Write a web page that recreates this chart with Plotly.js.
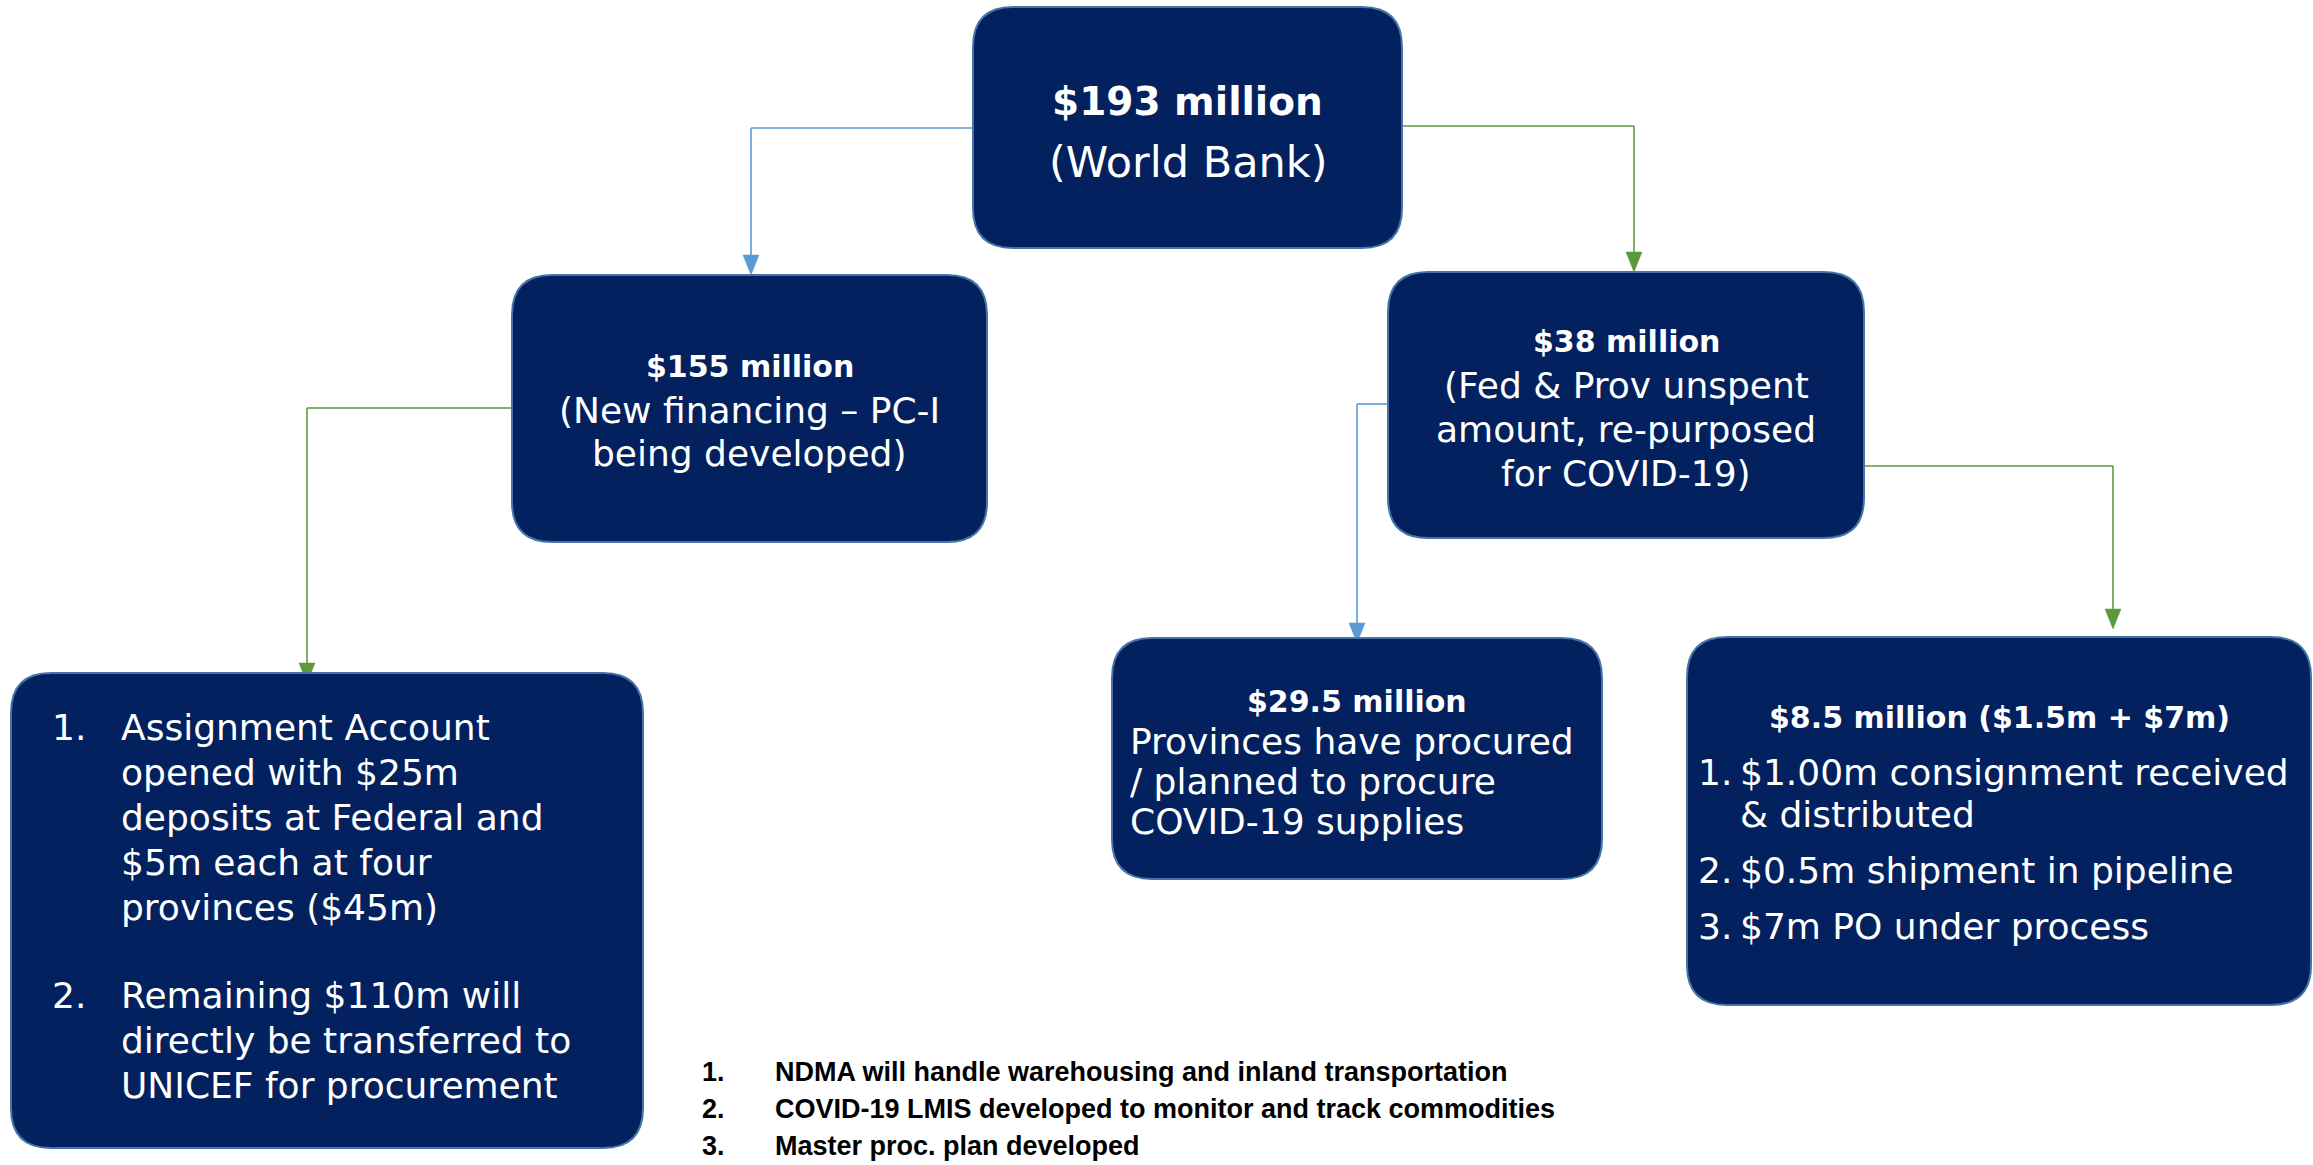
<!DOCTYPE html>
<html>
<head>
<meta charset="utf-8">
<script src="https://cdn.plot.ly/plotly-3.0.1.min.js"></script>
<style>
  body { margin: 0; background: #fff; }
  #graph { width: 2313px; height: 1165px; }
</style>
</head>
<body>
<div id="graph"></div>
<script>
// texto de cada caixa
const heads = ["$193 million", "$155 million", "$38 million", "", "$29.5 million", "$8.5 million ($1.5m + $7m)"];
const bodyTop = ["(World Bank)"];
const body155 = ["(New financing – PC-I", "being developed)"];
const body38 = ["(Fed & Prov unspent", "amount, re-purposed", "for COVID-19)"];
const body295 = ["Provinces have procured", "/ planned to procure", "COVID-19 supplies"];
const accountItems = [
    ["Assignment Account", "opened with $25m", "deposits at Federal and", "$5m each at four", "provinces ($45m)"],
    ["Remaining $110m will", "directly be transferred to", "UNICEF for procurement"]
];
const supplyItems = [
    ["$1.00m consignment received", "& distributed"],
    ["$0.5m shipment in pipeline"],
    ["$7m PO under process"]
];
const notes = [
    "NDMA will handle warehousing and inland transportation",
    "COVID-19 LMIS developed to monitor and track commodities",
    "Master proc. plan developed"
];

// geometria das caixas (pixels): topo, 155, 38, conta, 29.5, 8.5
const boxX0 = [973, 512, 1388, 11, 1112, 1687];
const boxY0 = [7, 275, 272, 673, 638, 637];
const boxX1 = [1402, 987, 1864, 643, 1602, 2311];
const boxY1 = [248, 542, 538, 1148, 879, 1005];

// ligações: caixa de origem, lado, y de saída, x da descida, destino, cor
const BLUE = "#5B9BD5";
const GREEN = "#5B9A3C";
const links = [
    {from: 0, side: "left", y: 128, x: 751, to: 1, color: BLUE},
    {from: 0, side: "right", y: 126, x: 1634, to: 2, color: GREEN},
    {from: 1, side: "left", y: 408, x: 307, to: 3, color: GREEN, tip: 10},
    {from: 2, side: "left", y: 404, x: 1357, to: 4, color: BLUE, tip: 5},
    {from: 2, side: "right", y: 466, x: 2113, to: 5, color: GREEN, tip: -8}
];

const FILL = "#02215E";
const EDGE = "#4674A6";
const FONT = "'DejaVu Sans', 'Noto Sans', sans-serif";
const NOTE_FONT = "'Liberation Sans', Arial, sans-serif";

let shapes = [];
let annotations = [];

function roundRect(x0, y0, x1, y1, r) {
    return "M" + (x0 + r) + "," + y0 +
        " L" + (x1 - r) + "," + y0 + " Q" + x1 + "," + y0 + " " + x1 + "," + (y0 + r) +
        " L" + x1 + "," + (y1 - r) + " Q" + x1 + "," + y1 + " " + (x1 - r) + "," + y1 +
        " L" + (x0 + r) + "," + y1 + " Q" + x0 + "," + y1 + " " + x0 + "," + (y1 - r) +
        " L" + x0 + "," + (y0 + r) + " Q" + x0 + "," + y0 + " " + (x0 + r) + "," + y0 + " Z";
}

function txt(x, y, text, size, opts) {
    opts = opts || {};
    annotations.push({
        x: x, y: y, xref: "x", yref: "y",
        text: opts.bold ? "<b>" + text + "</b>" : text,
        showarrow: false,
        xanchor: opts.anchor || "center",
        yanchor: "middle",
        font: {family: opts.family || FONT, size: size, color: opts.color || "#ffffff"}
    });
}

// linhas de ligação (desenhadas antes das caixas)
links.forEach(function(l) {
    let sx = l.side === "left" ? boxX0[l.from] : boxX1[l.from];
    let tipY = boxY0[l.to] + (l.tip || 0);
    shapes.push({type: "line", x0: sx, y0: l.y, x1: l.x, y1: l.y, line: {color: l.color, width: 1.6}});
    shapes.push({type: "line", x0: l.x, y0: l.y, x1: l.x, y1: tipY - 18, line: {color: l.color, width: 1.6}});
    shapes.push({
        type: "path",
        path: "M" + (l.x - 8) + "," + (tipY - 20) + " L" + (l.x + 8) + "," + (tipY - 20) + " L" + l.x + "," + tipY + " Z",
        fillcolor: l.color, line: {color: l.color, width: 0.5}
    });
});

// caixas
for (let i = 0; i < boxX0.length; i++) {
    shapes.push({
        type: "path",
        path: roundRect(boxX0[i], boxY0[i], boxX1[i], boxY1[i], 40),
        fillcolor: FILL, line: {color: EDGE, width: 2}, layer: "above"
    });
}

function cx(i) { return (boxX0[i] + boxX1[i]) / 2; }

// caixa do topo
txt(cx(0), 101, heads[0], 39, {bold: true});
txt(cx(0), 162, bodyTop[0], 43);

// 155
txt(cx(1), 366, heads[1], 30, {bold: true});
body155.forEach(function(s, k) { txt(cx(1), 410 + k * 43, s, 36); });

// 38
txt(cx(2), 341, heads[2], 30, {bold: true});
body38.forEach(function(s, k) { txt(cx(2), 385 + k * 44, s, 36); });

// 29.5
txt(cx(4), 701, heads[4], 30, {bold: true});
body295.forEach(function(s, k) { txt(1128, 741 + k * 40, s, 36, {anchor: "left"}); });

// 8.5
txt(cx(5), 717, heads[5], 30, {bold: true});
let sy = [772, 870, 926];
supplyItems.forEach(function(item, k) {
    txt(1696, sy[k], (k + 1) + ".", 36, {anchor: "left"});
    item.forEach(function(s, j) { txt(1738, sy[k] + j * 42, s, 36, {anchor: "left"}); });
});

// caixa da conta
let ay = [727, 995];
accountItems.forEach(function(item, k) {
    txt(50, ay[k], (k + 1) + ".", 36, {anchor: "left"});
    item.forEach(function(s, j) { txt(119, ay[k] + j * 45, s, 36, {anchor: "left"}); });
});

// notas em baixo
notes.forEach(function(s, k) {
    let y = 1072 + k * 37;
    txt(700, y, (k + 1) + ".", 27, {anchor: "left", bold: true, color: "#000000", family: NOTE_FONT});
    txt(773, y, s, 27, {anchor: "left", bold: true, color: "#000000", family: NOTE_FONT});
});

const layout = {
    width: 2313,
    height: 1165,
    margin: {l: 0, r: 0, t: 0, b: 0},
    paper_bgcolor: "#ffffff",
    plot_bgcolor: "#ffffff",
    showlegend: false,
    xaxis: {range: [0, 2313], visible: false, fixedrange: true},
    yaxis: {range: [1165, 0], visible: false, fixedrange: true},
    shapes: shapes,
    annotations: annotations
};

Plotly.newPlot("graph", [], layout, {staticPlot: true});
</script>
</body>
</html>
